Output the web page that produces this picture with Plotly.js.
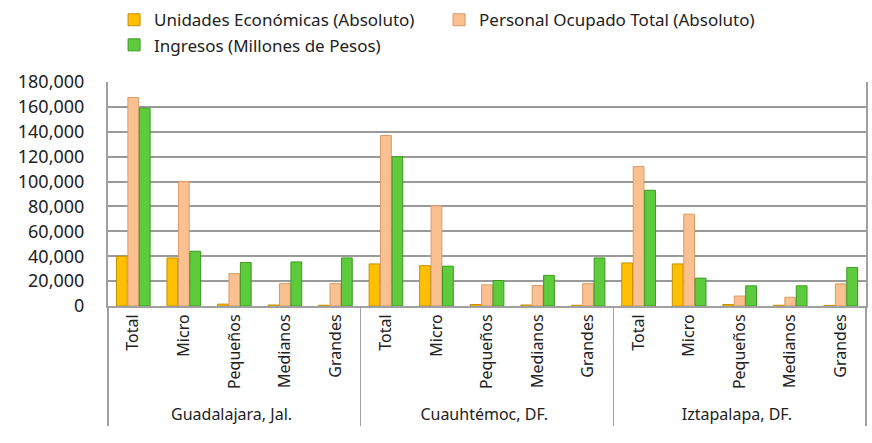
<!DOCTYPE html>
<html><head><meta charset="utf-8">
<script src="https://cdn.plot.ly/plotly-3.0.1.min.js"></script>
<style>body{margin:0;background:#fff}#chart{width:872px;height:443px}</style>
</head><body><div id="chart"></div>
<script>
const groups = ["Guadalajara, Jal.", "Cuauhtémoc, DF.", "Iztapalapa, DF."];
const sizes = ["Total", "Micro", "Pequeños", "Medianos", "Grandes"];
const seriesNames = ["Unidades Económicas (Absoluto)", "Personal Ocupado Total (Absoluto)", "Ingresos (Millones de Pesos)"];
const unidades = [40000, 38600, 1500, 800, 600, 33800, 32400, 1200, 800, 600, 34600, 33800, 1200, 600, 500];
const personal = [167600, 100000, 26000, 18000, 18000, 137000, 80500, 17000, 16500, 18000, 112000, 73800, 8000, 7000, 17800];
const ingresos = [159000, 44000, 35000, 35400, 38600, 120000, 32000, 20500, 24600, 38600, 93000, 22400, 16200, 16200, 31000];
const yTicks = [0, 20000, 40000, 60000, 80000, 100000, 120000, 140000, 160000, 180000];

const xg = [], xs = [];
groups.forEach(g => sizes.forEach(s => { xg.push(g); xs.push(s); }));

const fills = ["#FFC000", "#FAC090", "#5DCB3B"];
const edges = ["#C58F00", "#D99A66", "#3C9A22"];
const vals = [unidades, personal, ingresos];

const traces = vals.map((v, i) => ({
  type: "bar",
  name: seriesNames[i],
  x: [xg, xs],
  y: v,
  marker: {color: fills[i], line: {color: edges[i], width: 1}},
  hoverinfo: "y"
}));

const font = "'Noto Sans', 'Open Sans', sans-serif";
const layout = {
  width: 872, height: 443,
  margin: {l: 108, r: 6, t: 82, b: 137},
  paper_bgcolor: "#fff", plot_bgcolor: "#fff",
  barmode: "group", bargap: 0.32, bargroupgap: 0.06,
  font: {family: font, color: "#222"},
  showlegend: true,
  legend: {
    orientation: "h", x: 0.008, xanchor: "left", y: 0.995, yanchor: "top",
    yref: "container",
    entrywidth: 280, entrywidthmode: "pixels",
    font: {size: 17, family: font, color: "#222"},
    itemclick: false
  },
  xaxis: {
    type: "multicategory",
    tickangle: -90,
    tickfont: {size: 16, family: font, color: "#222"},
    showline: true, linecolor: "#A0A0A0", linewidth: 2,
    showdividers: true, dividercolor: "#A0A0A0", dividerwidth: 1.5,
    ticks: "", mirror: false
  },
  yaxis: {
    range: [0, 180000], tickvals: yTicks, tickformat: ",",
    tickfont: {size: 18, family: font, color: "#222"},
    ticklabelstandoff: 18,
    showgrid: true, gridcolor: "#9A9A9A", gridwidth: 2,
    showline: true, linecolor: "#A0A0A0", linewidth: 2, mirror: true,
    zeroline: false, ticks: "", ticklen: 0
  }
};
Plotly.newPlot("chart", traces, layout, {displayModeBar: false, staticPlot: true});
</script>
</body></html>
